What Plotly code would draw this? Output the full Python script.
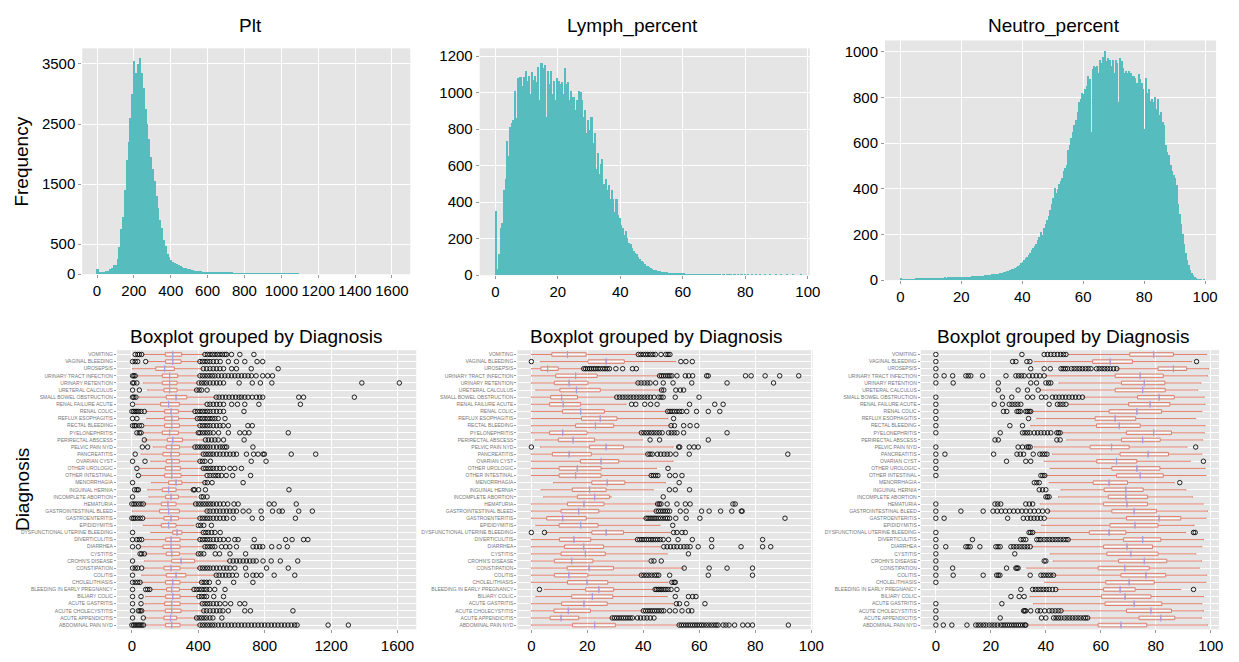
import plotly.graph_objects as go

FONT = "Liberation Sans, Arial, sans-serif"
TEAL = "#56BCBE"
RED = "#E3806E"
MED_COLOR = "#A0A0EC"
BG = "#E5E5E5"

DIAGNOSES = [
    "VOMITING", "VAGINAL BLEEDING", "UROSEPSIS", "URINARY TRACT INFECTION", "URINARY RETENTION",
    "URETERAL CALCULUS", "SMALL BOWEL OBSTRUCTION", "RENAL FAILURE ACUTE", "RENAL COLIC",
    "REFLUX ESOPHAGITIS", "RECTAL BLEEDING", "PYELONEPHRITIS", "PERIRECTAL ABSCESS",
    "PELVIC PAIN NYD", "PANCREATITIS", "OVARIAN CYST", "OTHER UROLOGIC", "OTHER INTESTINAL",
    "MENORRHAGIA", "INGUINAL HERNIA", "INCOMPLETE ABORTION", "HEMATURIA",
    "GASTROINTESTINAL BLEED", "GASTROENTERITIS", "EPIDIDYMITIS", "DYSFUNCTIONAL UTERINE BLEEDING",
    "DIVERTICULITIS", "DIARRHEA", "CYSTITIS", "CROHN'S DISEASE", "CONSTIPATION", "COLITIS",
    "CHOLELITHIASIS", "BLEEDING IN EARLY PREGNANCY", "BILIARY COLIC", "ACUTE GASTRITIS",
    "ACUTE CHOLECYSTITIS", "ACUTE APPENDICITIS", "ABDOMINAL PAIN NYD",
]

# ---------------- histogram counts ----------------
PLT_BIN_START, PLT_BIN_WIDTH = 0, 10
PLT_COUNTS = [
    82, 15, 15, 20, 35, 45, 55, 80, 100, 150,
    140, 250, 450, 750, 950, 1400, 1900, 2200, 2600, 3000,
    3550, 3350, 3500, 3600, 3350, 3100, 2750, 2500, 2250, 1950,
    1750, 1550, 1300, 1100, 900, 760, 560, 470, 330, 280,
    230, 205, 180, 165, 145, 135, 120, 105, 95, 85,
    75, 66, 60, 54, 48, 44, 41, 38, 35, 33,
    31, 29, 27, 25, 23, 22, 21, 20, 19, 18,
    17, 16, 15, 15, 14, 14, 13, 13, 12, 12,
    12, 11, 11, 11, 10, 10, 10, 9, 9, 9,
    9, 8, 8, 8, 7, 7, 7, 6, 6, 6,
    5, 5, 4, 3, 2, 2, 1, 1, 1, 1,
]

PCT_BIN_START, PCT_BIN_WIDTH = 0, 0.5
LYMPH_COUNTS = [
    352, 30, 113, 257, 283, 463, 525, 732, 651, 812,
    830, 848, 1010, 857, 1078, 1082, 1085, 1037, 1082, 1118,
    1064, 1091, 992, 1109, 1067, 1091, 1055, 1139, 956, 1160,
    1136, 1150, 866, 1118, 1046, 1118, 992, 1064, 956, 1080,
    1064, 1046, 1055, 992, 1136, 1046, 1055, 956, 1010, 974,
    974, 902, 956, 1010, 1000, 956, 866, 902, 777, 848,
    795, 866, 723, 777, 579, 669, 553, 606, 633, 499,
    526, 463, 490, 418, 463, 418, 346, 418, 328, 310,
    274, 256, 221, 239, 203, 176, 167, 149, 131, 122,
    113, 99, 86, 77, 68, 59, 50, 50, 41, 38,
    32, 29, 27, 23, 23, 20, 18, 16, 14, 14,
    12, 11, 9, 10, 8, 7, 7, 6, 6, 5,
    5, 4, 4, 4, 3, 3, 3, 3, 2, 2,
    2, 2, 2, 2, 1, 2, 1, 1, 2, 1,
    1, 1, 1, 1, 0, 1, 1, 0, 1, 1,
    1, 0, 1, 1, 0, 1, 0, 1, 0, 1,
    0, 1, 0, 0, 1, 0, 1, 0, 0, 1,
    0, 0, 1, 0, 0, 1, 0, 0, 0, 1,
    0, 0, 1, 0, 0, 0, 1, 0, 0, 0,
    1, 0, 0, 0, 0, 1, 0, 0, 0, 0,
]
NEUTRO_COUNTS = [
    6, 1, 1, 2, 1, 2, 2, 3, 2, 3,
    5, 4, 5, 6, 5, 6, 6, 7, 6, 7,
    7, 8, 7, 8, 8, 9, 8, 9, 9, 10,
    9, 10, 10, 11, 10, 11, 11, 12, 11, 12,
    12, 13, 12, 13, 13, 14, 14, 15, 15, 16,
    16, 17, 17, 18, 18, 19, 20, 20, 21, 22,
    23, 24, 25, 26, 27, 28, 30, 31, 33, 35,
    38, 40, 42, 45, 48, 52, 55, 60, 66, 72,
    79, 85, 94, 100, 108, 115, 128, 137, 148, 158,
    175, 187, 209, 195, 225, 245, 262, 281, 305, 331,
    360, 403, 380, 396, 420, 432, 446, 475, 490, 504,
    568, 590, 619, 648, 676, 700, 734, 777, 790, 820,
    813, 835, 849, 892, 880, 648, 921, 935, 930, 935,
    907, 964, 950, 975, 1000, 957, 971, 964, 935, 964,
    907, 964, 950, 777, 971, 957, 928, 907, 914, 907,
    914, 907, 892, 892, 885, 863, 899, 878, 863, 835,
    662, 885, 820, 835, 784, 791, 777, 799, 748, 791,
    720, 734, 691, 676, 590, 561, 547, 504, 475, 460,
    446, 417, 331, 288, 245, 201, 158, 115, 86, 65,
    43, 29, 20, 14, 6, 3, 1, 1, 0, 1,
]

# ---------------- box statistics (order = DIAGNOSES, top to bottom) ----------------
PLT_LO = [69, 95, 4, 39, 69, 95, 43, 24, 83, 89, 79, 69, 79, 128, 55, 114, 49, 59, 118, 95,
          102, 75, 4, 75, 69, 114, 79, 49, 83, 75, 69, 59, 59, 118, 83, 79, 63, 79, 83]
PLT_Q1 = [201, 203, 144, 183, 183, 193, 207, 173, 197, 197, 197, 183, 213, 207, 187, 207, 201, 197, 221, 183,
          203, 177, 167, 193, 177, 246, 203, 187, 207, 240, 193, 207, 203, 209, 203, 197, 201, 193, 203]
PLT_MED = [246, 246, 197, 227, 227, 227, 266, 221, 236, 240, 240, 227, 246, 240, 236, 240, 240, 240, 266, 221,
           236, 217, 221, 236, 221, 272, 236, 236, 240, 296, 236, 266, 246, 240, 246, 240, 240, 233, 240]
PLT_Q3 = [300, 296, 256, 276, 272, 272, 331, 286, 280, 282, 286, 280, 305, 286, 286, 286, 292, 296, 301, 266,
          280, 266, 286, 280, 266, 301, 290, 290, 286, 378, 290, 325, 290, 286, 290, 290, 296, 270, 290]
PLT_HI = [433, 404, 424, 404, 398, 384, 502, 443, 374, 390, 404, 394, 433, 374, 424, 404, 424, 443, 433, 359,
          390, 378, 449, 404, 374, 424, 404, 433, 394, 581, 404, 502, 414, 368, 398, 418, 429, 384, 404]
PLT_OUT = [
    [20, 35, 45, 59, 440, 455, 470, 485, 500, 515, 530, 545, 560, 570, 600, 650, 735],
    [4, 20, 35, 83, 410, 425, 440, 455, 470, 490, 510, 532, 581, 630, 680, 754, 788],
    [430, 450, 470, 490, 510, 530, 552, 601, 630, 719, 881],
    [4, 12, 20, 410, 425, 440, 455, 470, 485, 500, 520, 540, 560, 580, 600, 620, 640, 660, 680, 700, 720, 748, 788, 818, 847],
    [4, 12, 30, 404, 420, 435, 450, 470, 490, 510, 530, 552, 646, 725, 774, 843, 1385, 1611],
    [4, 45, 390, 405, 420, 453],
    [4, 12, 24, 508, 525, 545, 565, 585, 605, 625, 645, 660, 680, 700, 725, 750, 770, 788, 1005, 1034, 1340],
    [4, 453, 470, 490, 510, 530, 552, 601, 636, 680, 765, 1015],
    [0, 10, 20, 30, 40, 55, 75, 380, 395, 410, 425, 440, 455, 470, 490, 510, 530, 552, 675],
    [4, 30, 394, 410, 425, 440, 455, 470, 485, 500, 520, 561],
    [4, 15, 25, 45, 59, 410, 425, 440, 455, 470, 490, 510, 530, 550, 581, 699, 725],
    [30, 45, 55, 400, 410, 425, 440, 455, 470, 490, 522, 581, 650, 680, 705, 942],
    [75, 443, 460, 480, 500, 520, 552, 676],
    [63, 95, 380, 395, 410, 425, 440, 455, 470, 490, 510, 530, 545, 560, 571, 729],
    [20, 430, 445, 460, 475, 490, 510, 530, 550, 570, 591, 611, 630, 690, 733, 760, 790, 798, 960, 1107],
    [4, 79, 410, 425, 440, 473, 719, 808],
    [30, 430, 445, 460, 475, 490, 510, 530, 552, 591, 620, 660],
    [39, 453, 470, 490, 505, 520, 540, 568, 607, 715],
    [4, 440, 455, 483, 670],
    [16, 30, 39, 370, 378, 402, 443, 946],
    [4, 418, 430, 453],
    [0, 12, 25, 40, 55, 69, 384, 400, 415, 430, 445, 460, 475, 490, 510, 530, 552, 577, 615, 640, 827, 857, 990],
    [453, 470, 490, 510, 530, 550, 570, 590, 610, 630, 670, 705, 778, 847, 887, 906, 1005, 1087],
    [0, 10, 20, 35, 50, 65, 410, 425, 440, 455, 470, 490, 510, 530, 552, 571, 611, 725, 782, 985],
    [400, 414, 433, 479],
    [4, 430, 445, 460, 480, 500, 532],
    [4, 30, 45, 59, 410, 425, 440, 455, 470, 490, 510, 530, 552, 581, 620, 640, 737, 926, 965, 1034, 1060],
    [4, 39, 440, 455, 470, 485, 500, 540, 565, 590, 630, 730, 750, 770, 788, 842, 887, 936],
    [49, 59, 75, 400, 415, 433, 502, 528, 591, 685],
    [4, 590, 610, 630, 650, 670, 690, 710, 730, 749, 790, 839, 894, 999],
    [4, 20, 35, 59, 410, 425, 440, 455, 470, 490, 510, 530, 552, 571, 591, 620, 685, 811, 942],
    [4, 508, 525, 545, 565, 585, 605, 630, 690, 729, 750, 778, 857, 981],
    [4, 20, 35, 49, 420, 435, 450, 467, 520, 613, 729],
    [4, 83, 95, 108, 374, 390, 405, 420, 435, 450, 469, 499, 561],
    [4, 55, 404, 420, 435, 450, 493, 552],
    [4, 55, 424, 440, 455, 470, 490, 510, 530, 561, 595, 650, 680],
    [4, 39, 49, 59, 433, 450, 470, 490, 510, 530, 548, 581, 680, 714, 970],
    [4, 69, 390, 405, 420, 435, 450, 470, 488, 542],
    [0, 10, 20, 30, 40, 50, 60, 70, 410, 425, 440, 455, 470, 485, 500, 520, 540, 560, 580, 600, 620, 640, 660,
     680, 700, 720, 740, 760, 780, 800, 820, 840, 860, 880, 900, 920, 940, 960, 980, 995, 1182, 1304],
]

LYMPH_LO = [0, 3.2, 0, 0, 0, 1.6, 0, 0, 0, 0, 0, 0, 1.4, 3.2, 0, 0, 0, 0, 7.9, 3.5,
            4.4, 0, 0, 0, 1.6, 5.2, 0, 0, 0, 0, 0, 0, 0, 4.6, 1.6, 0, 0, 0, 0]
LYMPH_Q1 = [7.3, 20.2, 3.4, 8.7, 8.2, 10.2, 6.9, 6.5, 11.1, 17.9, 15.8, 6.5, 9.6, 20.8, 7.5, 17.5, 9.9, 9.9, 21.6, 14.6,
            16.4, 12.9, 10.6, 5.5, 9.9, 21.6, 10.0, 11.8, 10.6, 8.2, 12.8, 8.2, 12.9, 19.4, 14.4, 10.8, 8.1, 6.7, 14.7]
LYMPH_MED = [12.9, 26.7, 5.8, 15.8, 13.5, 16.1, 10.8, 11.4, 17.6, 24.6, 22.9, 11.2, 14.9, 26.7, 13.5, 24.9, 16.4, 15.8, 27.1, 20.8,
             22.6, 18.8, 16.9, 11.2, 17.6, 26.7, 15.2, 18.7, 19.3, 14.4, 20.6, 13.4, 19.9, 24.1, 21.8, 18.8, 13.2, 10.6, 22.6]
LYMPH_Q3 = [19.6, 33.2, 9.6, 23.5, 20.2, 24.6, 16.5, 17.6, 26.1, 30.6, 29.4, 19.9, 22.6, 32.9, 21.4, 31.2, 24.9, 24.9, 33.4, 26.7,
            27.9, 25.9, 24.1, 19.6, 23.8, 32.9, 21.2, 25.8, 26.4, 22.0, 29.3, 20.2, 27.3, 29.4, 29.1, 27.1, 21.1, 16.9, 30.0]
LYMPH_HI = [37.9, 51.6, 18.5, 45.5, 37.9, 46.1, 30.2, 33.8, 48.5, 48.8, 49.6, 39.1, 39.6, 50.6, 41.4, 50.6, 44.7, 42.6, 47.9, 43.5,
            28.5, 44.9, 44.4, 40.8, 45.9, 49.6, 37.6, 46.1, 48.5, 41.6, 54.4, 39.1, 48.8, 44.0, 48.5, 50.6, 39.6, 28.7, 52.6]
LYMPH_OUT = [
    [38.2, 39.1, 40, 40.8, 41.6, 42.5, 43.4, 44.3, 46.3, 48, 48.8, 49.5],
    [0, 53.4, 55.2, 57.5],
    [18.7, 19.4, 20.1, 20.8, 21.5, 22.3, 23, 23.8, 24.6, 25.5, 26.3, 27.1, 27.9, 30.2, 32.6, 36.1, 37.5],
    [45.8, 46.5, 47.2, 48, 48.8, 49.5, 50.2, 52, 55, 56.2, 57.6, 62.6, 63.2, 76.5, 78.5, 83.5, 88.7, 95.5],
    [38.1, 39.2, 40.3, 41.4, 42.4, 44.4, 47.1, 50.6, 57.3, 69.9, 86.5],
    [46.5, 47.3, 51.6, 53.2, 54.4],
    [30.5, 31.5, 32.5, 33.5, 34.5, 35.5, 36.5, 37.5, 38.5, 39.5, 40.5, 41.5, 42.5, 43.8, 45.5, 46.3, 47.1, 51.4, 59.9],
    [35.8, 37.3, 40.5, 42.6, 44.9, 56.5, 65.5, 68.5],
    [48.7, 49.5, 50.3, 51.1, 52, 52.9, 53.8, 55.5, 59, 63.2, 67.3],
    [50.8],
    [49.9, 51.1, 54.4, 56.7, 59.1],
    [39.3, 40.2, 41.1, 42, 42.9, 43.8, 44.8, 45.7, 46.7, 49, 50, 51, 52, 54.4, 69.9],
    [42.4, 45.8, 63.2],
    [0, 52.6, 53, 56.4, 58.1, 59.6],
    [41.6, 42.4, 43.2, 45, 46.2, 47.4, 48.5, 49.6, 51.6, 56.4, 91.6],
    [],
    [48.8],
    [42.8, 43.6, 44.4, 45.2, 49.4, 51.4, 53.8],
    [52.8],
    [49.3, 51.4, 56.5],
    [47.1],
    [45.1, 45.7, 46.3, 48.5, 52, 55, 56.7, 72, 72.8],
    [44.6, 45.4, 46.2, 47, 47.8, 48.6, 49.4, 53.2, 55.3, 60.8, 63.5, 67.6, 71.6, 75, 75.3],
    [41, 41.7, 42.4, 43.1, 43.8, 44.5, 45.3, 46.1, 47, 47.9, 48.6, 49.4, 51.6, 55.3, 60.2, 90.6],
    [50.5],
    [0, 4.7, 50.8, 52, 53.8, 55],
    [37.9, 38.7, 39.5, 40.3, 41.1, 41.9, 42.7, 43.5, 44.3, 45.1, 46, 47.1, 49, 52.4, 57.5, 64.4, 82.6],
    [47.3, 48.5, 49.7, 50.9, 52, 53.3, 54.5, 55.6, 56.7, 59.6, 64.4, 74.9, 82.6, 85.5],
    [56.1],
    [42.8, 43.8, 46.4],
    [54.6, 63.5, 69.9, 79],
    [39.3, 40.2, 41.1, 42, 43, 44, 44.8, 45.5, 49.4, 63.2, 79],
    [50.2, 51, 51.4],
    [2.9, 44.2, 44.8, 45.4, 46, 46.6, 47.3, 48, 48.8, 49.9, 52],
    [51.4, 56.1, 57.6, 58.8],
    [51.8, 52.9, 55.5, 62],
    [40, 40.8, 41.6, 42.4, 43.2, 44, 44.8, 45.6, 46.5, 47.3, 49.4, 51.4, 53.8, 56.1, 57.3],
    [28.9, 29.7, 30.5, 31.3, 32.1, 32.9, 33.7, 34.5, 35.3, 36.1, 37.9, 39, 40.2, 41.3, 42.5, 43.8],
    [52.8, 53.6, 54.4, 55.2, 56, 56.8, 57.6, 58.4, 59.2, 60, 60.8, 61.6, 62.5, 63.4, 64.3, 65.2, 66, 66.7,
     68.5, 69.5, 70.6, 72.6, 75.5, 77.3, 79, 91.8],
]

NEUTRO_LO = [48.1, 35.8, 66.0, 40.0, 44.8, 37.9, 53.7, 48.1, 34.9, 36.7, 34.5, 46.3, 47.6, 35.8, 42.4, 39.4, 41.6, 40.0, 41.2, 45.5,
             44.6, 37.9, 40.8, 40.4, 38.5, 36.0, 48.5, 34.9, 41.6, 42.7, 33.1, 43.0, 39.6, 44.0, 34.2, 35.5, 45.7, 55.8, 33.3]
NEUTRO_Q1 = [70.5, 57.0, 80.8, 65.2, 67.5, 65.2, 73.3, 70.1, 63.0, 57.9, 58.4, 69.3, 67.5, 56.1, 67.0, 58.5, 64.0, 65.7, 57.2, 61.2,
             62.7, 61.0, 64.0, 69.3, 63.3, 55.8, 68.2, 61.0, 62.2, 66.4, 59.0, 67.3, 61.8, 61.0, 60.2, 61.5, 69.3, 73.9, 59.0]
NEUTRO_MED = [79.2, 63.4, 86.4, 74.3, 75.8, 75.2, 81.2, 77.9, 73.1, 65.2, 66.7, 79.2, 75.2, 63.9, 77.2, 65.7, 73.1, 74.3, 63.0, 69.1,
              69.1, 69.5, 72.1, 81.2, 72.4, 63.0, 75.2, 69.5, 70.9, 75.8, 68.7, 76.4, 70.3, 67.0, 68.8, 72.1, 78.2, 81.8, 67.3]
NEUTRO_Q3 = [86.4, 71.5, 91.2, 82.7, 83.3, 83.4, 86.7, 85.1, 82.1, 72.7, 74.3, 85.7, 81.6, 70.3, 84.6, 73.1, 81.5, 82.7, 69.7, 75.4,
             77.0, 77.0, 80.2, 89.1, 80.8, 69.1, 81.8, 78.8, 80.8, 84.0, 77.6, 83.6, 79.4, 72.5, 78.2, 82.2, 85.7, 86.9, 76.7]
NEUTRO_HI = [98.5, 93.0, 99.2, 98.8, 96.4, 95.2, 97.6, 97.9, 96.7, 94.5, 97.9, 97.6, 97.0, 91.3, 96.7, 92.5, 97.9, 98.2, 86.7, 90.9,
             93.3, 97.2, 98.8, 98.2, 93.9, 90.9, 97.3, 96.7, 94.5, 96.6, 95.8, 98.5, 98.2, 89.1, 97.3, 96.7, 97.3, 96.6, 98.8]
NEUTRO_OUT = [
    [0, 31.3, 39.4, 40.6, 41.8, 43, 44.2, 45.4, 46.4, 47.3],
    [0, 27.9, 29.1, 33.1, 34.2, 94.8],
    [0, 34.5, 39.4, 41.6, 45.5, 46.3, 47.1, 47.9, 49.3, 50.3, 51.3, 52.3, 53.3, 54.4, 55.4, 56.4, 58.4, 59.4,
     60.4, 61.4, 62.4, 63.4, 64.6, 65.8],
    [0, 3, 6.1, 10.9, 11.8, 12.7, 17, 25.5, 29.1, 30.1, 31.1, 32.1, 33.9, 35.2, 36.5, 37.8, 39.4],
    [0, 6.3, 22.7, 34.5, 36.6, 40, 41, 41.8],
    [22.7, 29.9, 33.3, 37.2],
    [0, 24.2, 27.6, 33.3, 35.2, 38.4, 40, 42.4, 43.6, 44.8, 46, 47.2, 48.4, 49.6, 50.8, 52, 53.3],
    [0, 21.2, 24.2, 26.7, 27.7, 28.8, 29.8, 30.9, 41.2, 44.2, 45.2, 46.2, 47.3],
    [0, 24.6, 25.8, 29.5, 30.1, 30.7, 32.7, 33.3, 33.9, 34.5],
    [0, 33.7],
    [0, 26.9, 31.5],
    [0, 23.4, 31.5, 32.4, 33.3, 34.2, 35.8, 37, 38.2, 39.4, 40.6, 41.8, 44, 44.6, 45.2],
    [21.5, 22.7, 44, 45.2],
    [0, 29.9, 31.5, 33.1, 33.7, 34.3, 94.5],
    [0, 3.3, 21, 29.5, 30.7, 31.9, 35.4, 37.8, 38.7, 39.6, 40.4],
    [0, 25.7, 32.7, 34.5, 97.3],
    [0],
    [0, 38.2, 38.9, 39.6],
    [35.8, 36.7, 37.6, 88.7],
    [37.6, 38.8, 40],
    [40, 40.6, 41.2],
    [0, 21.5, 22.5, 23.6, 32.7, 34, 35.2],
    [0, 9.1, 17.2, 20.8, 22.3, 23.8, 25.3, 26.8, 28.3, 29.8, 31.3, 32.8, 34.3, 35.8, 37.3, 38.8, 40.6],
    [0, 3, 26.1, 31.8, 33.3, 34.5, 35.7, 36.9, 38.1, 39.4],
    [],
    [0, 33.9, 34.5, 35.2, 93.7, 94.3],
    [0, 13.3, 30.9, 31.8, 32.7, 36.7, 37.5, 38.2, 39.4, 40.4, 41.4, 42.4, 43.4, 44.4, 45.4, 46.4, 47.3, 48.1],
    [0, 3.6, 10.9, 11.7, 12.5, 16, 21.8, 22.6, 23.4, 27.3, 28.3, 29.3, 30.3, 31.3, 32.3, 33.3, 34.3],
    [0, 28.7],
    [0, 39.4, 40],
    [0, 6.1, 25.7, 29.1, 29.5, 29.9],
    [0, 6.3, 17.2, 22.1, 22.7, 23.3, 34.3, 38.2, 39.1, 40, 40.9, 41.8, 42.8],
    [0],
    [30.9, 35.2, 36.2, 37.2, 38.2, 39.2, 40.2, 41.2, 42.4, 43.6, 93.7],
    [27.3, 30.3, 32.1],
    [0, 24],
    [0, 31.9, 32.3, 32.7, 34.5, 37, 38, 39.6, 41.2, 42.3, 43.4, 44.5, 45.5],
    [0, 23.4, 38.4, 40, 42.8, 43.7, 44.6, 45.5, 46.7, 47.7, 48.7, 49.7, 50.7, 51.7, 52.7, 53.7, 54.5, 55.2],
    [0, 2.7, 5.8, 11.3, 14.5, 15.4, 16.3, 17.3, 18.2, 19.4, 20.4, 21.4, 22.4, 23.6, 24.4, 25.2, 26, 26.8,
     27.6, 28.4, 29.2, 30, 30.8, 31.6, 32.4, 32.7],
]

for arr in [PLT_LO, PLT_Q1, PLT_MED, PLT_Q3, PLT_HI, PLT_OUT, LYMPH_LO, LYMPH_Q1, LYMPH_MED, LYMPH_Q3,
            LYMPH_HI, LYMPH_OUT, NEUTRO_LO, NEUTRO_Q1, NEUTRO_MED, NEUTRO_Q3, NEUTRO_HI, NEUTRO_OUT]:
    assert len(arr) == len(DIAGNOSES), len(arr)

W, H = 1239, 662


def px_x(a, b):
    return [a / W, b / W]


def px_y(top, bottom):
    return [1 - bottom / H, 1 - top / H]


fig = go.Figure()


def add_hist(counts, start, width, ax):
    centers = [start + width * (i + 0.5) for i in range(len(counts))]
    fig.add_trace(go.Bar(x=centers, y=counts, width=width, marker=dict(color=TEAL, line=dict(width=0)),
                         xaxis="x" + ax, yaxis="y" + ax, showlegend=False, hoverinfo="x+y"))


add_hist(PLT_COUNTS, PLT_BIN_START, PLT_BIN_WIDTH, "")
add_hist(LYMPH_COUNTS, PCT_BIN_START, PCT_BIN_WIDTH, "2")
add_hist(NEUTRO_COUNTS, PCT_BIN_START, PCT_BIN_WIDTH, "3")


def add_boxes(lo, q1, med, q3, hi, outs, ax):
    fig.add_trace(go.Box(orientation="h", y=DIAGNOSES, q1=q1, median=med, q3=q3, lowerfence=lo, upperfence=hi,
                         boxpoints=False, width=0.5, whiskerwidth=0.35, fillcolor="rgba(0,0,0,0)",
                         line=dict(color=RED, width=1), xaxis="x" + ax, yaxis="y" + ax, showlegend=False))
    fig.add_trace(go.Scatter(x=med, y=DIAGNOSES, mode="markers",
                             marker=dict(symbol="line-ns", size=5, line=dict(width=1.2, color=MED_COLOR)),
                             xaxis="x" + ax, yaxis="y" + ax, showlegend=False, hoverinfo="skip"))
    ox, oy = [], []
    for d, vals in zip(DIAGNOSES, outs):
        for v in vals:
            ox.append(v)
            oy.append(d)
    fig.add_trace(go.Scatter(x=ox, y=oy, mode="markers",
                             marker=dict(symbol="circle-open", size=4.5, color="rgba(0,0,0,0.85)", line=dict(width=1)),
                             xaxis="x" + ax, yaxis="y" + ax, showlegend=False))


add_boxes(PLT_LO, PLT_Q1, PLT_MED, PLT_Q3, PLT_HI, PLT_OUT, "4")
add_boxes(LYMPH_LO, LYMPH_Q1, LYMPH_MED, LYMPH_Q3, LYMPH_HI, LYMPH_OUT, "5")
add_boxes(NEUTRO_LO, NEUTRO_Q1, NEUTRO_MED, NEUTRO_Q3, NEUTRO_HI, NEUTRO_OUT, "6")

tickfont = dict(family=FONT, size=15, color="black")
common = dict(showgrid=True, gridcolor="white", gridwidth=1, zeroline=False, showline=False,
              ticks="outside", ticklen=3, tickcolor="#999999", tickfont=tickfont)

layout = dict(
    width=W, height=H, margin=dict(l=0, r=0, t=0, b=0), paper_bgcolor="white", plot_bgcolor=BG,
    bargap=0, showlegend=False, font=dict(family=FONT),
    xaxis=dict(domain=px_x(83, 414), anchor="y", range=[-80, 1700], tickvals=list(range(0, 1601, 200)), **common),
    yaxis=dict(domain=px_y(48, 277), anchor="x", range=[0, 3760], tickvals=[0, 500, 1500, 2500, 3500], **common),
    xaxis2=dict(domain=px_x(484, 817), anchor="y2", range=[-5, 100.6], tickvals=[0, 20, 40, 60, 80, 100], **common),
    yaxis2=dict(domain=px_y(48, 278), anchor="x2", range=[0, 1243], tickvals=[0, 200, 400, 600, 800, 1000, 1200], **common),
    xaxis3=dict(domain=px_x(893, 1227), anchor="y3", range=[-5, 103.6], tickvals=[0, 20, 40, 60, 80, 100], **common),
    yaxis3=dict(domain=px_y(40, 283), anchor="x3", range=[0, 1050], tickvals=[0, 200, 400, 600, 800, 1000], **common),
    xaxis4=dict(domain=px_x(118, 420), anchor="y4", range=[-90, 1713], tickvals=[0, 400, 800, 1200, 1600], **common),
    xaxis5=dict(domain=px_x(522, 820), anchor="y5", range=[-5, 100.5], tickvals=[0, 20, 40, 60, 80, 100], **common),
    xaxis6=dict(domain=px_x(929, 1230), anchor="y6", range=[-5.5, 103], tickvals=[0, 20, 40, 60, 80, 100], **common),
)
for i, dom in zip(["4", "5", "6"], [px_y(354, 637)] * 3):
    layout["yaxis" + i] = dict(domain=dom, anchor="x" + i, type="category", categoryorder="array",
                               categoryarray=DIAGNOSES, range=[38.6, -0.6], showgrid=True, gridcolor="white",
                               zeroline=False, showline=False, ticks="outside", ticklen=2, tickcolor="#999999",
                               tickfont=dict(family=FONT, size=5, color="#777777"))
fig.update_layout(**layout)

title_font = dict(family=FONT, size=19, color="black")
ann = [
    ("Plt", 253, 25, 0), ("Lymph_percent", 638, 25, 0), ("Neutro_percent", 1063, 25, 0),
    ("Boxplot grouped by Diagnosis", 258, 340, 0), ("Boxplot grouped by Diagnosis", 662, 340, 0),
    ("Boxplot grouped by Diagnosis", 1073, 340, 0),
    ("Frequency", 22, 163, -90), ("Diagnosis", 22, 495, -90),
]
for text, x, y, ang in ann:
    fig.add_annotation(text=text, x=x / W, y=1 - y / H, xref="paper", yref="paper", showarrow=False,
                       xanchor="center", yanchor="middle", textangle=ang, font=title_font)

fig.write_html("out.html")
